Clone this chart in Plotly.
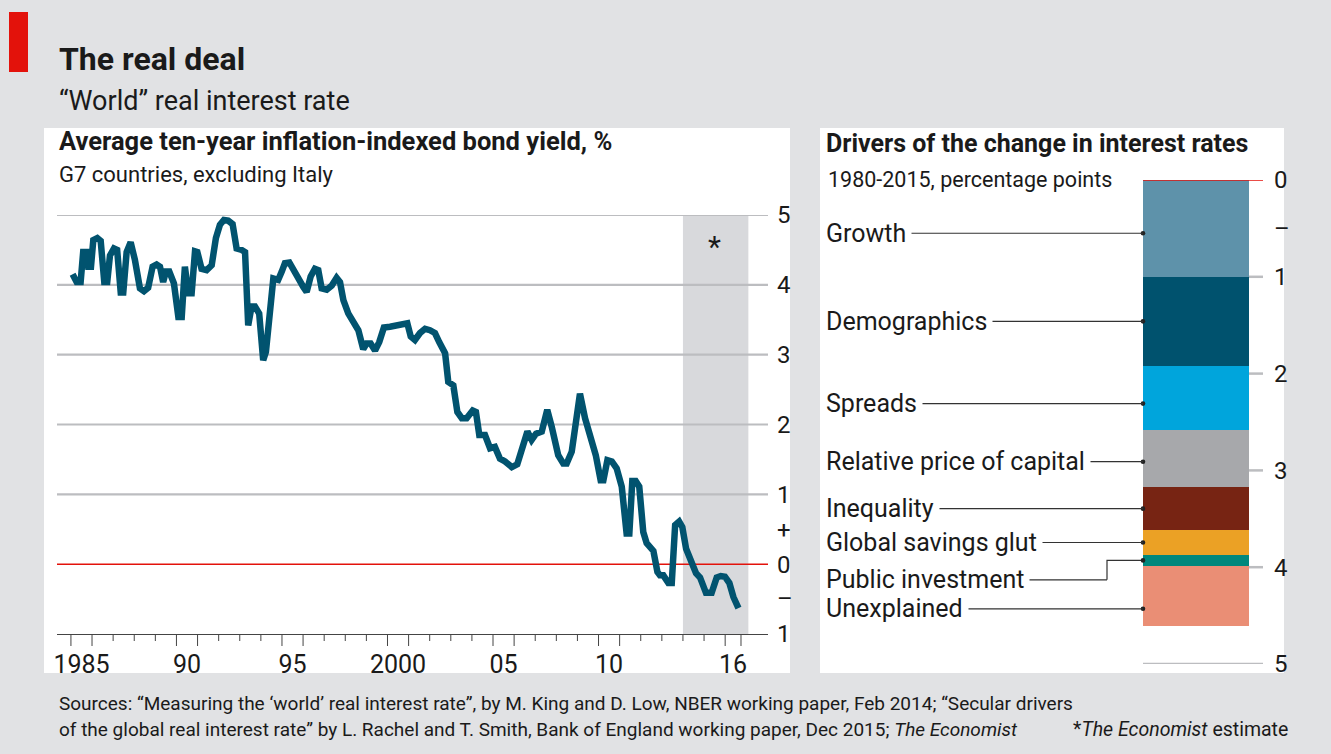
import plotly.graph_objects as go

W, H = 1331, 754
FONT = "Roboto"
INK = "#1a1a1a"
BG = "#e1e2e4"

# ---- left panel: average ten-year inflation-indexed bond yield, % ----
years = [
    1985.08, 1985.27, 1985.46, 1985.58, 1985.74, 1985.82, 1985.95, 1986.06, 1986.25, 1986.41,
    1986.58, 1986.72, 1986.85, 1987.04, 1987.19, 1987.36, 1987.48, 1987.64, 1987.83, 1988.03,
    1988.27, 1988.46, 1988.66, 1988.87, 1989.06, 1989.22, 1989.37, 1989.50, 1989.66, 1989.88,
    1990.09, 1990.25, 1990.40, 1990.56, 1990.72, 1990.88, 1990.99, 1991.19, 1991.43, 1991.67,
    1991.87, 1992.06, 1992.25, 1992.45, 1992.66, 1992.85, 1993.09, 1993.25, 1993.40, 1993.56,
    1993.72, 1993.92, 1994.11, 1994.24, 1994.59, 1994.82, 1994.99, 1995.14, 1995.35, 1995.54,
    1995.73, 1996.01, 1996.17, 1996.36, 1996.56, 1996.72, 1996.88, 1997.12, 1997.36, 1997.59,
    1997.75, 1997.91, 1998.14, 1998.46, 1998.62, 1998.85, 1999.01, 1999.20, 1999.41, 1999.61,
    1999.83, 2000.12, 2000.44, 2000.75, 2000.94, 2001.10, 2001.30, 2001.54, 2001.78, 2002.01,
    2002.25, 2002.45, 2002.73, 2002.88, 2003.12, 2003.31, 2003.52, 2003.75, 2004.04, 2004.19,
    2004.35, 2004.62, 2004.86, 2005.09, 2005.33, 2005.57, 2005.89, 2006.15, 2006.41, 2006.63,
    2006.83, 2007.04, 2007.31, 2007.57, 2007.78, 2008.09, 2008.33, 2008.49, 2008.73, 2009.12,
    2009.36, 2009.60, 2009.87, 2010.10, 2010.23, 2010.42, 2010.63, 2010.86, 2011.10, 2011.33,
    2011.46, 2011.60, 2011.76, 2011.93, 2012.12, 2012.28, 2012.44, 2012.60, 2012.79, 2012.91,
    2013.07, 2013.31, 2013.47, 2013.63, 2013.82, 2013.97, 2014.15, 2014.42, 2014.62, 2014.81,
    2015.09, 2015.36, 2015.60, 2015.79, 2015.99, 2016.20, 2016.39, 2016.63,
]
yields = [
    4.15, 4.04, 4.04, 4.47, 4.47, 4.26, 4.26, 4.64, 4.67, 4.63,
    4.04, 4.04, 4.42, 4.52, 4.50, 3.89, 3.89, 4.47, 4.61, 4.36,
    3.95, 3.91, 3.96, 4.26, 4.29, 4.26, 4.04, 4.19, 4.19, 4.02,
    3.54, 3.54, 4.26, 3.88, 3.88, 4.48, 4.47, 4.23, 4.21, 4.28,
    4.67, 4.86, 4.93, 4.92, 4.87, 4.52, 4.50, 4.47, 3.42, 3.69,
    3.69, 3.59, 2.92, 3.04, 4.09, 4.07, 4.19, 4.31, 4.32, 4.21,
    4.12, 3.97, 3.90, 4.12, 4.23, 4.21, 3.95, 3.93, 3.99, 4.10,
    4.04, 3.78, 3.59, 3.42, 3.35, 3.08, 3.16, 3.16, 3.06, 3.18,
    3.39, 3.40, 3.42, 3.46, 3.45, 3.26, 3.21, 3.31, 3.37, 3.35,
    3.31, 3.18, 3.02, 2.61, 2.56, 2.18, 2.09, 2.09, 2.20, 2.18,
    1.85, 1.85, 1.66, 1.68, 1.51, 1.47, 1.39, 1.43, 1.68, 1.90,
    1.78, 1.87, 1.90, 2.21, 1.97, 1.56, 1.44, 1.44, 1.61, 2.44,
    2.09, 1.85, 1.56, 1.20, 1.20, 1.49, 1.47, 1.37, 1.11, 0.44,
    0.44, 1.19, 1.19, 1.11, 0.46, 0.30, 0.24, 0.19, -0.11, -0.16,
    -0.16, -0.27, -0.27, 0.56, 0.61, 0.53, 0.22, 0.01, -0.13, -0.19,
    -0.41, -0.41, -0.19, -0.17, -0.18, -0.27, -0.47, -0.63,
]

tick_years = list(range(1985, 2017)) + [2016.75]
long_ticks = [1985, 1986, 1990, 1991, 1995, 1996, 2000, 2001, 2005, 2006, 2010, 2011, 2016, 2016.75]
label_starts = [1985, 1990, 1995, 2000, 2005, 2010, 2016]
label_ends = [1986, 1991, 1996, 2001, 2006, 2011, 2016.75]
year_labels = ["1985", "90", "95", "2000", "05", "10", "16"]
estimate_span = [2014.0, 2017.1]

y_ticks = [-1, -0.5, 0, 0.5, 1, 2, 3, 4, 5]
y_tick_text = ["1", "–", "0", "+", "1", "2", "3", "4", "5"]
gridlines = [1, 2, 3, 4, 5]

# ---- right panel: drivers of the change, 1980-2015, percentage points ----
drivers = ["Growth", "Demographics", "Spreads", "Relative price of capital",
           "Inequality", "Global savings glut", "Public investment", "Unexplained"]
contributions = [1.00, 0.92, 0.66, 0.59, 0.45, 0.25, 0.12, 0.62]
driver_colors = ["#5e92aa", "#00526e", "#00a5dc", "#a7a8ab",
                 "#772413", "#eba125", "#00877c", "#ea8e75"]
bar_ticks = [0, 0.5, 1, 2, 3, 4, 5]
bar_tick_text = ["0", "–", "1", "2", "3", "4", "5"]


def fx(px):
    return px / W


def fy(py):
    return 1 - py / H


# pixel frames of the two plotting areas
LX, LY = (57, 768), (215, 634)
RX, RY = (1143, 1249), (180, 664)
XRANGE = [1984.34, 2018.03]
LABEL_X = 824

fig = go.Figure()

fig.add_trace(go.Scatter(
    x=years, y=yields, mode="lines",
    line=dict(color="#01536f", width=6.5),
    hoverinfo="skip", showlegend=False,
))

for name, value, color in zip(drivers, contributions, driver_colors):
    fig.add_trace(go.Bar(
        x=["1980-2015"], y=[value], width=1,
        marker=dict(color=color, line=dict(width=0)),
        xaxis="x2", yaxis="y2", name=name, showlegend=False,
        hoverinfo="skip",
    ))

shapes = [
    dict(type="rect", xref="paper", yref="paper", x0=fx(9), x1=fx(28), y0=fy(12), y1=fy(72),
         fillcolor="#e3120b", line=dict(width=0), layer="below"),
    dict(type="rect", xref="paper", yref="paper", x0=fx(44), x1=fx(790), y0=fy(128), y1=fy(673),
         fillcolor="white", line=dict(width=0), layer="below"),
    dict(type="rect", xref="paper", yref="paper", x0=fx(820), x1=fx(1284), y0=fy(128), y1=fy(673),
         fillcolor="white", line=dict(width=0), layer="below"),
    dict(type="rect", xref="x", yref="y", x0=estimate_span[0], x1=estimate_span[1], y0=-1, y1=5,
         fillcolor="#d8d9dc", line=dict(width=0), layer="below"),
]
for g in gridlines:
    shapes.append(dict(type="line", xref="x", yref="y", x0=XRANGE[0], x1=XRANGE[1], y0=g, y1=g,
                       line=dict(color="#bcbdc0", width=2.2), layer="below"))
shapes.append(dict(type="line", xref="x", yref="y", x0=XRANGE[0], x1=XRANGE[1], y0=0, y1=0,
                   line=dict(color="#e3120b", width=1.5), layer="below"))
for t in tick_years:
    length = 12 if t in long_ticks else 7
    shapes.append(dict(type="line", xref="x", yref="paper", x0=t, x1=t,
                       y0=fy(LY[1]), y1=fy(LY[1] + length),
                       line=dict(color="#444444", width=1)))

# right panel scale marks
for v in bar_ticks:
    if v == 0.5:
        continue
    color = "#e3120b" if v == 0 else "#bcbdc0"
    x0 = RX[0] if v in (0, 5) else RX[1]
    shapes.append(dict(type="line", xref="paper", yref="y2", x0=fx(x0), x1=fx(RX[1] + 14),
                       y0=v, y1=v, line=dict(color=color, width=2.5 if v else 1.5)))

# leader lines for the driver labels
starts = [sum(contributions[:i]) for i in range(len(contributions))]
label_nudge = {"Growth": 0.05, "Spreads": 0.06, "Relative price of capital": 0.035,
               "Unexplained": 0.13}
elbow_px = 1107
annotations = []
for name, s, c in zip(drivers, starts, contributions):
    mid = s + c / 2
    if name == "Public investment":
        dot_y = mid
        label_y = mid + 0.2
        head_px = elbow_px
        shapes.append(dict(type="path", xref="paper", yref="y2",
                           path=f"M{fx(elbow_px)},{label_y} L{fx(elbow_px)},{dot_y} L{fx(RX[0])},{dot_y}",
                           line=dict(color="#333333", width=1.2)))
    else:
        label_y = mid + label_nudge.get(name, 0)
        dot_y = label_y
        head_px = RX[0]
    shapes.append(dict(type="circle", xref="paper", yref="y2", xsizemode="pixel",
                       ysizemode="pixel", xanchor=fx(RX[0]), yanchor=dot_y, x0=-2.3, x1=2.3,
                       y0=-2.3, y1=2.3, fillcolor="#222222", line=dict(width=0)))
    annotations.append(dict(
        xref="paper", x=fx(head_px), yref="y2", y=label_y,
        ax=LABEL_X - head_px, ay=0, axref="pixel", ayref="pixel",
        text=name, showarrow=True, arrowhead=0, arrowwidth=1.2, arrowcolor="#333333",
        startstandoff=4, xanchor="left", yanchor="middle",
        font=dict(family=FONT, size=25, color=INK),
    ))


def label(px, py, text, size, anchor="left"):
    return dict(xref="paper", yref="paper", x=fx(px), y=fy(py), text=text, showarrow=False,
                xanchor=anchor, yanchor="middle",
                font=dict(family=FONT, size=size, color=INK))


annotations += [
    label(57, 59, "<b>The real deal</b>", 32),
    label(57, 101, "“World” real interest rate", 27),
    label(57, 141, "<b>Average ten-year inflation-indexed bond yield, %</b>", 25.5),
    label(57, 174, "G7 countries, excluding Italy", 22),
    label(LABEL_X, 143, "<b>Drivers of the change in interest rates</b>", 25),
    label(826, 179, "1980-2015, percentage points", 21.5),
    label(57, 703, "Sources: “Measuring the ‘world’ real interest rate”, by M. King and D. Low, "
                   "NBER working paper, Feb 2014; “Secular drivers", 19),
    label(57, 729, "of the global real interest rate” by L. Rachel and T. Smith, Bank of England "
                   "working paper, Dec 2015; <i>The Economist</i>", 19),
    label(1290, 729, "*<i>The Economist</i> estimate", 19.5, anchor="right"),
    dict(xref="x", yref="y", x=sum(estimate_span) / 2 - 0.05, y=4.55, text="*", showarrow=False,
         font=dict(family=FONT, size=30, color=INK)),
]

fig.update_layout(
    width=W, height=H,
    margin=dict(l=0, r=0, t=0, b=0, pad=0, autoexpand=False),
    paper_bgcolor=BG, plot_bgcolor="rgba(0,0,0,0)",
    font=dict(family=FONT, color=INK),
    barmode="stack", bargap=0, showlegend=False,
    shapes=shapes, annotations=annotations,
    xaxis=dict(
        domain=[fx(LX[0]), fx(LX[1])], range=XRANGE, anchor="y", automargin=False,
        tickvals=[(a + b) / 2 for a, b in zip(label_starts, label_ends)], ticktext=year_labels,
        ticks="", showgrid=False, zeroline=False, showline=True, linecolor="#444444",
        linewidth=1, tickfont=dict(size=25, color=INK), ticklabelstandoff=8, fixedrange=True,
    ),
    yaxis=dict(
        domain=[fy(LY[1]), fy(LY[0])], range=[-1, 5], anchor="x", side="right", automargin=False,
        tickvals=y_ticks, ticktext=y_tick_text, ticks="", showgrid=False, zeroline=False,
        tickfont=dict(size=24, color=INK), ticklabelstandoff=8, fixedrange=True,
    ),
    xaxis2=dict(
        domain=[fx(RX[0]), fx(RX[1])], anchor="y2", type="category", automargin=False,
        showticklabels=False, ticks="", showgrid=False, zeroline=False, showline=False,
        fixedrange=True,
    ),
    yaxis2=dict(
        domain=[fy(RY[1]), fy(RY[0])], range=[5, 0], anchor="x2", side="right", automargin=False,
        tickvals=bar_ticks, ticktext=bar_tick_text, ticks="", showgrid=False, zeroline=False,
        tickfont=dict(size=24, color=INK), ticklabelstandoff=24, fixedrange=True,
    ),
)

fig.write_html("out.html", config={"displayModeBar": False},
               post_script=f"document.body.style.margin='0';document.body.style.background='{BG}';")
